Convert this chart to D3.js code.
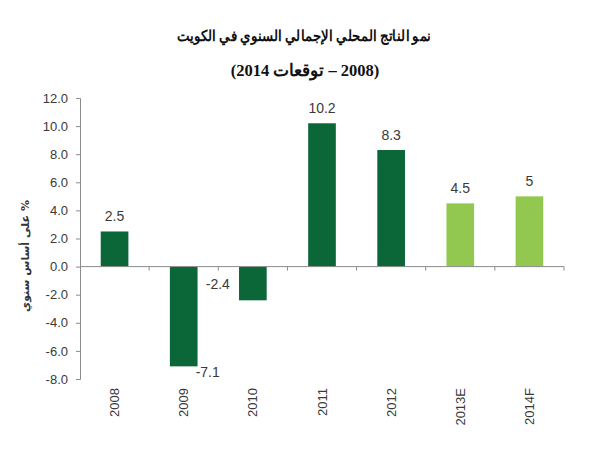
<!DOCTYPE html>
<html><head><meta charset="utf-8">
<script src="https://cdn.jsdelivr.net/npm/d3@7"></script>
<style>body{margin:0;background:#fff}</style>
</head><body>
<svg id="c" width="591" height="450"></svg>
<script>
const categories = ["2008","2009","2010","2011","2012","2013E","2014F"];
const values = [2.5,-7.1,-2.4,10.2,8.3,4.5,5];
const isForecast = [false,false,false,false,false,true,true];
const valueLabels = ["2.5","-7.1","-2.4","10.2","8.3","4.5","5"];
const yTicks = [12,10,8,6,4,2,0,-2,-4,-6,-8];
const titleLines = ["نمو الناتج المحلي الإجمالي السنوي في الكويت","(2008 – توقعات 2014)"];
const yTitle = "% على أساس سنوي";

const svg = d3.select("#c");
const x = d3.scaleBand().domain(categories).range([80,564]).paddingInner(0.6).paddingOuter(0.3);
const y = d3.scaleLinear().domain([-8,12]).range([379,98]);
const dark = "#0b6638", light = "#92c850", axisCol = "#8c8c8c", txt = "#3a3a3a";

// titles
svg.append("text").attr("x",304).attr("y",41).attr("text-anchor","middle").attr("direction","rtl")
  .attr("textLength",254).attr("lengthAdjust","spacingAndGlyphs")
  .style("font-family","'Liberation Serif','Times New Roman',serif").style("font-weight","bold").style("font-size","15px")
  .attr("fill","#111").text(titleLines[0]);
svg.append("text").attr("x",305).attr("y",76).attr("text-anchor","middle").attr("direction","rtl")
  .style("font-family","'Liberation Serif','Times New Roman',serif").style("font-weight","bold").style("font-size","16.5px")
  .attr("fill","#111").text(titleLines[1]);

// y axis
const fmt = d => d3.format(".1f")(d).replace("\u2212","-");
const yAxis = d3.axisLeft(y).tickValues(yTicks).tickSize(4).tickSizeOuter(4).tickPadding(8).tickFormat(fmt);
const gy = svg.append("g").attr("transform","translate(80,0)").call(yAxis);
gy.selectAll("path,line").attr("stroke",axisCol);
gy.selectAll("text").style("font-family","'Liberation Sans',Arial,sans-serif").style("font-size","13px").attr("fill",txt);

// y title
svg.append("text").attr("transform","translate(29,256) rotate(-90)").attr("text-anchor","middle")
  .attr("direction","rtl")
  .style("font-family","'DejaVu Sans',sans-serif").style("font-size","11px").style("font-weight","bold").attr("fill","#333").text(yTitle);

// bars
svg.selectAll(".bar").data(values).join("rect")
  .attr("x",(d,i)=>x(categories[i])).attr("width",x.bandwidth())
  .attr("y",d=>y(Math.max(0,d))).attr("height",d=>Math.abs(y(d)-y(0)))
  .attr("fill",(d,i)=>isForecast[i]?light:dark);

// x axis line + ticks at band boundaries
const step = x.step();
const x0 = x.range()[0];
svg.append("line").attr("x1",x0).attr("x2",x.range()[1]).attr("y1",y(0)).attr("y2",y(0)).attr("stroke",axisCol);
svg.selectAll(".xt").data(d3.range(1,categories.length+1)).join("line")
  .attr("x1",i=>x0 + i*step).attr("x2",i=>x0 + i*step)
  .attr("y1",y(0)).attr("y2",y(0)+4).attr("stroke",axisCol);

// category labels
svg.selectAll(".cat").data(categories).join("text")
  .attr("transform",d=>`translate(${x(d)+x.bandwidth()/2},388) rotate(-90)`)
  .attr("text-anchor","end").attr("dy","0.35em")
  .style("font-family","'Liberation Sans',Arial,sans-serif").style("font-size","13px").attr("fill",txt).text(d=>d);

// value labels
svg.selectAll(".vl").data(values).join("text")
  .attr("x",(d,i)=>{
    const c = x(categories[i])+x.bandwidth()/2;
    if (d<-5) return c+24;
    if (d<0) return c-35;
    return c;
  })
  .attr("y",d=>{
    if (d<-5) return y(d)+11;
    if (d<0) return y(d)-11;
    return y(d)-10;
  })
  .attr("text-anchor","middle")
  .style("font-family","'Liberation Sans',Arial,sans-serif").style("font-size","14px").attr("fill",txt)
  .text((d,i)=>valueLabels[i]);
</script>
</body></html>
